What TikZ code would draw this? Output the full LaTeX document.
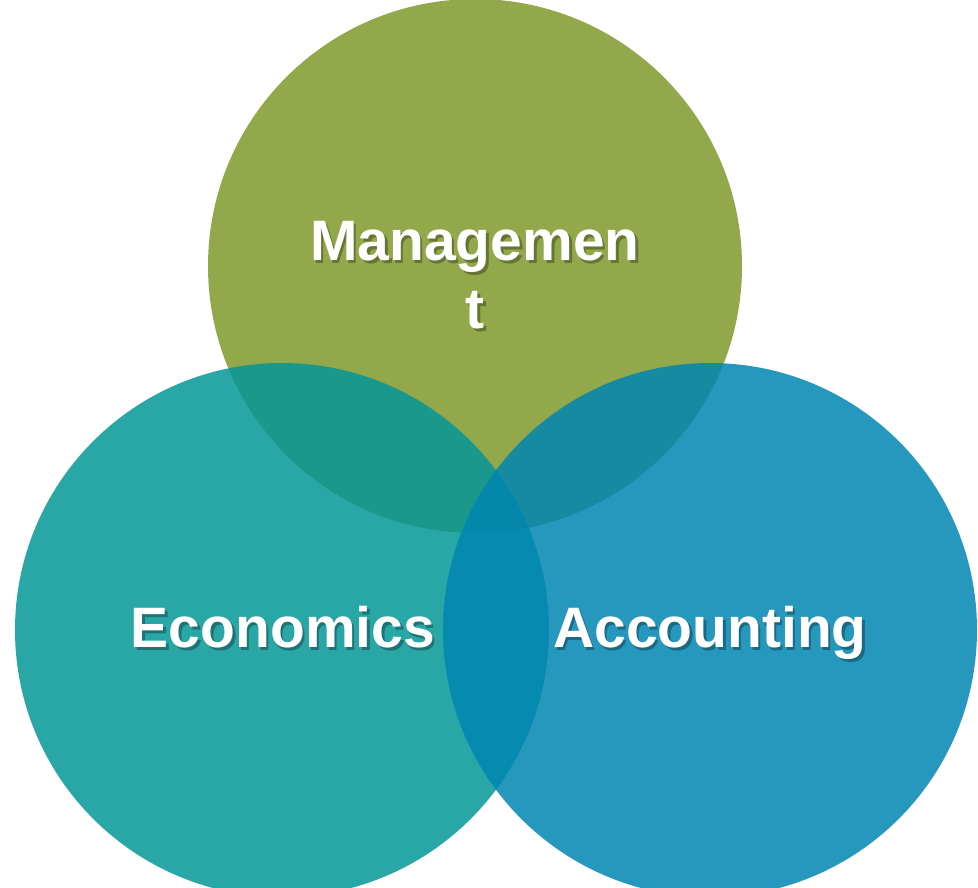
\documentclass[tikz,border=0pt]{standalone}
\usepackage{fontspec}
\setmainfont{Liberation Sans}
\definecolor{cgreen}{RGB}{128,153,42}
\definecolor{cteal}{RGB}{4,150,150}
\definecolor{cblue}{RGB}{0,133,177}
\begin{document}
\begin{tikzpicture}[x=1pt,y=-1pt,
  venn/.style={circle,minimum size=534pt,inner sep=0pt,fill opacity=0.85,text opacity=1},
  lbl/.style={text=white,font=\fontsize{57}{68}\selectfont\bfseries,align=center,inner sep=0pt,anchor=base},
  shd/.style={text=black,text opacity=0.3,font=\fontsize{57}{68}\selectfont\bfseries,align=center,inner sep=0pt,anchor=base}]
\useasboundingbox (0,0) rectangle (978,887);
\node[venn,fill=cgreen] (mgmt) at (475,266) {};
\node[venn,fill=cteal] (econ) at (282,630) {};
\node[venn,fill=cblue] (acct) at (710,630) {};
\node[shd] (sm) at (477.5,331) {Managemen\\t};
\node[lbl] (tm) at (475,328) {Managemen\\t};
\node[shd] (se) at (285.5,650) {Economics};
\node[lbl] (te) at (283,647) {Economics};
\node[shd] (sa) at (712.5,650) {Accounting};
\node[lbl] (ta) at (710,647) {Accounting};
\end{tikzpicture}
\end{document}
